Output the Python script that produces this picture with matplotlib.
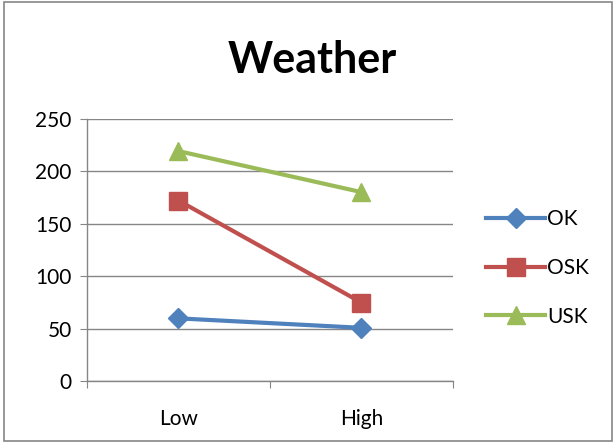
import matplotlib
matplotlib.use("Agg")
from matplotlib import pyplot as plt
from matplotlib.patches import Rectangle

categorias = ["Low", "High"]
ok = [60, 51]
osk = [172, 75]
usk = [219, 180]
nombres = ["OK", "OSK", "USK"]
yticks = [0, 50, 100, 150, 200, 250]

plt.rcParams['font.family'] = ['Lato', 'DejaVu Sans']

fig = plt.figure(figsize=(6.16, 4.44), dpi=100)
fig.patches.append(Rectangle((0.006, 0.007), 0.987, 0.988, transform=fig.transFigure,
                             fill=False, edgecolor='#868686', linewidth=1.2))
ax = fig.add_axes([0.1412, 0.1408, 0.5942, 0.5923])

x = list(range(len(categorias)))
ax.plot(x, ok, color='#4F81BD', linewidth=3, marker='D', markersize=10, label=nombres[0])
ax.plot(x, osk, color='#C0504D', linewidth=3, marker='s', markersize=13, label=nombres[1])
ax.plot(x, usk, color='#9BBB59', linewidth=3, marker='^', markersize=13, label=nombres[2])

ax.set_xlim(-0.5, 1.5)
ax.set_ylim(0, 250)
ax.set_yticks(yticks)
ax.yaxis.grid(True, color='#868686', linewidth=1)
ax.set_axisbelow(True)
ax.set_xticks([-0.5, 0.5, 1.5])
ax.set_xticklabels([])
ax.set_xticks(x, minor=True)
ax.set_xticklabels(categorias, minor=True)
ax.tick_params(axis='x', which='minor', length=0, labelsize=15, pad=20)
ax.tick_params(axis='x', which='major', length=5, color='#868686', direction='out')
ax.tick_params(axis='y', length=5, color='#868686', labelsize=15, pad=6)
for s in ['top', 'right']:
    ax.spines[s].set_visible(False)
for s in ['left', 'bottom']:
    ax.spines[s].set_color('#868686')
    ax.spines[s].set_linewidth(1)

fig.text(0.507, 0.865, "Weather", ha='center', va='center', fontsize=31, fontweight='bold')
ax.legend(loc='center left', bbox_to_anchor=(1.04, 0.432), frameon=False, fontsize=15,
          handlelength=2.8, handletextpad=0.1, labelspacing=1.38)

fig.savefig("out.png", dpi=100)
